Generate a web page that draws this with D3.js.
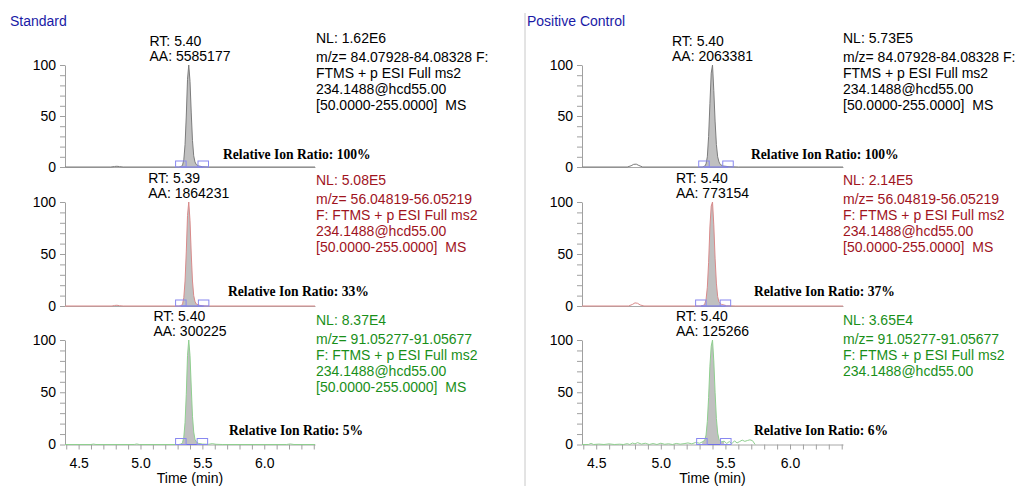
<!DOCTYPE html>
<html><head><meta charset="utf-8">
<script src="https://cdn.jsdelivr.net/npm/d3@7"></script>
<style>
html,body{margin:0;padding:0;background:#fff;}
svg{display:block;}
</style></head><body>
<svg id="chart" width="1019" height="486"></svg>
<script>
// ---------------- DATA ----------------
const sampleNames = ["Standard", "Positive Control"];
const xTickLabels = [4.5, 5.0, 5.5, 6.0];
const yTickLabels = [0, 50, 100];

const stdRT = ["5.40", "5.39", "5.40"];
const stdAA = ["5585177", "1864231", "300225"];
const pcRT  = ["5.40", "5.40", "5.40"];
const pcAA  = ["2063381", "773154", "125266"];

const stdNL = ["1.62E6", "5.08E5", "8.37E4"];
const pcNL  = ["5.73E5", "2.14E5", "3.65E4"];

const stdRatio = ["100%", "33%", "5%"];
const pcRatio  = ["100%", "37%", "6%"];

const filterIon1 = ["m/z= 84.07928-84.08328 F:", "FTMS + p ESI Full ms2", "234.1488@hcd55.00", "[50.0000-255.0000]  MS"];
const filterIon2 = ["m/z= 56.04819-56.05219", "F: FTMS + p ESI Full ms2", "234.1488@hcd55.00", "[50.0000-255.0000]  MS"];
const filterIon3 = ["m/z= 91.05277-91.05677", "F: FTMS + p ESI Full ms2", "234.1488@hcd55.00", "[50.0000-255.0000]  MS"];
const filterIon3pc = ["m/z= 91.05277-91.05677", "F: FTMS + p ESI Full ms2", "234.1488@hcd55.00"];

// integration start / end (min)
const stdPeakStart = [5.326, 5.326, 5.326];
const stdPeakEnd   = [5.507, 5.51, 5.50];
const pcPeakStart  = [5.334, 5.31, 5.318];
const pcPeakEnd    = [5.52, 5.50, 5.503];

// chromatogram traces [time (min), relative abundance (%)]
const stdIon1 = [[4.39,0],[4.76,0],[4.79,0.5],[4.81,0.7],[4.83,0.4],[4.86,0],[5.31,0],[5.33,0.5],[5.34,2],[5.35,7],[5.36,22],[5.37,50],[5.38,86],[5.39,100],[5.40,84],[5.41,53],[5.42,26],[5.43,11],[5.44,5],[5.45,2.5],[5.47,1],[5.50,0.3],[5.56,0],[6.41,0]];
const stdIon2 = [[4.39,0],[4.77,0],[4.79,0.5],[4.81,0.7],[4.83,0.3],[4.86,0],[5.31,0],[5.33,0.4],[5.34,2],[5.35,8],[5.36,24],[5.37,52],[5.38,87],[5.39,100],[5.40,82],[5.41,50],[5.42,24],[5.43,10],[5.44,4.5],[5.45,2],[5.47,0.8],[5.50,0.2],[5.56,0],[6.41,0]];
const stdIon3 = [[4.39,0],[4.60,0],[4.62,0.4],[4.64,0],[4.95,0],[4.97,0.5],[4.99,0],[5.31,0],[5.33,0.5],[5.34,2],[5.35,7],[5.36,21],[5.37,48],[5.38,85],[5.39,100],[5.40,85],[5.41,55],[5.42,27],[5.43,12],[5.44,5],[5.45,2.5],[5.47,1],[5.50,0.4],[5.55,0.2],[5.58,0.8],[5.61,0.2],[5.66,0],[6.18,0],[6.21,0.5],[6.24,0],[6.41,0]];

const pcIon1 = [[4.39,0],[4.74,0],[4.77,1.2],[4.79,2.6],[4.81,2.8],[4.83,1.5],[4.86,0],[5.32,0],[5.34,0.8],[5.35,3],[5.36,10],[5.37,30],[5.38,62],[5.39,92],[5.40,100],[5.41,75],[5.42,45],[5.43,22],[5.44,10],[5.45,5],[5.46,2.5],[5.48,1],[5.52,0.4],[5.60,0],[6.41,0]];
const pcIon2 = [[4.39,0],[4.75,0],[4.78,1.5],[4.80,3.0],[4.82,2.6],[4.84,1],[4.87,0],[5.31,0],[5.33,0.6],[5.34,2],[5.35,6],[5.36,18],[5.37,42],[5.38,76],[5.39,96],[5.40,100],[5.41,78],[5.42,46],[5.43,22],[5.44,9],[5.45,4],[5.47,1.5],[5.51,0.3],[5.58,0],[6.41,0]];
const pcIon3 = [[4.39,0],[4.44,0],[4.46,1.0],[4.48,0],[4.52,0.4],[4.56,0],[4.60,0.6],[4.64,0],[4.68,0.3],[4.71,0],[4.74,0.8],[4.76,0],[4.78,1.4],[4.80,0.6],[4.82,1.8],[4.85,0.4],[4.88,1.2],[4.91,0],[4.94,0.9],[4.97,0],[5.00,1.2],[5.03,0.2],[5.06,0.7],[5.09,0],[5.12,1.0],[5.15,0.3],[5.18,0.8],[5.21,1.5],[5.24,0.6],[5.27,2.0],[5.30,1.2],[5.32,2.4],[5.34,4],[5.35,9],[5.36,22],[5.37,45],[5.38,75],[5.39,94],[5.40,100],[5.41,80],[5.42,50],[5.43,25],[5.44,11],[5.45,5],[5.47,2.5],[5.49,3.2],[5.51,1.0],[5.53,2.8],[5.55,0.8],[5.57,3.5],[5.59,1.5],[5.61,2.8],[5.63,4.2],[5.65,3.0],[5.67,3.8],[5.69,4.5],[5.71,3.6],[5.73,0]];

// ---------------- LAYOUT ----------------
const W = 1019, H = 486;
const xDomain = [4.39, 6.41];
const xRanges = [[65, 315], [582, 843]];
const panelTop = [65, 202, 340];
const panelBottom = [167, 306, 444.5];
const nlBase = [43, 185, 325];
const nlOffsets = [0, 18.5, 34.5, 50.5, 66.5];
const rtBase = [46, 183, 321];
const aaBase = [61, 198, 336];
const ratioBase = [159, 296, 435];
const ratioX = [[223, 228, 229], [751, 754, 754]];
const nlX = [316, 843];
const ionTextColors = ["#000000", "#a0141e", "#1a8f1a"];
const traceColors = ["#7c7c7c", "#d98a8a", "#8fcf8f"];
const sans = "'Liberation Sans', Arial, Helvetica, sans-serif";
const serif = "'Liberation Serif', 'Times New Roman', serif";

const samples = [
  {name: sampleNames[0], rt: stdRT, aa: stdAA, nl: stdNL, ratio: stdRatio,
   filters: [filterIon1, filterIon2, filterIon3], traces: [stdIon1, stdIon2, stdIon3],
   pStart: stdPeakStart, pEnd: stdPeakEnd},
  {name: sampleNames[1], rt: pcRT, aa: pcAA, nl: pcNL, ratio: pcRatio,
   filters: [filterIon1, filterIon2, filterIon3pc], traces: [pcIon1, pcIon2, pcIon3],
   pStart: pcPeakStart, pEnd: pcPeakEnd}
];

const svg = d3.select("#chart");
svg.append("rect").attr("width", W).attr("height", H).attr("fill", "#fff");

// divider
svg.append("line").attr("x1", 525).attr("x2", 525).attr("y1", 13).attr("y2", H)
  .attr("stroke", "#c8c8c8").attr("stroke-width", 1);

samples.forEach((s, si) => {
  const x = d3.scaleLinear().domain(xDomain).range(xRanges[si]);

  svg.append("text").attr("x", si === 0 ? 10 : 527).attr("y", 26)
    .attr("font-family", sans).attr("font-size", 14).attr("fill", "#1a1aa6")
    .text(s.name);

  for (let k = 0; k < 3; k++) {
    const y = d3.scaleLinear().domain([0, 100]).range([panelBottom[k], panelTop[k]]);
    const g = svg.append("g");

    // labels RT / AA (left-aligned block centred on RT)
    const cx = x(parseFloat(s.rt[k]));
    const t1 = g.append("text").attr("y", rtBase[k]).attr("font-family", sans).attr("font-size", 14)
      .attr("fill", "#000").text("RT: " + s.rt[k]);
    const t2 = g.append("text").attr("y", aaBase[k]).attr("font-family", sans).attr("font-size", 14)
      .attr("fill", "#000").text("AA: " + s.aa[k]);
    const bw = Math.max(t1.node().getComputedTextLength(), t2.node().getComputedTextLength());
    t1.attr("x", cx - bw / 2); t2.attr("x", cx - bw / 2);

    // NL + filter block
    const lines = ["NL: " + s.nl[k]].concat(s.filters[k]);
    lines.forEach((ln, li) => {
      g.append("text").attr("x", nlX[si]).attr("y", nlBase[k] + nlOffsets[li])
        .attr("font-family", sans).attr("font-size", 14).attr("fill", ionTextColors[k])
        .style("white-space", "pre").text(ln);
    });

    // ratio
    g.append("text").attr("x", ratioX[si][k]).attr("y", ratioBase[k])
      .attr("font-family", serif).attr("font-size", 13.6).attr("font-weight", "bold")
      .attr("fill", "#000").text("Relative Ion Ratio: " + s.ratio[k]);

    // y axis
    const yAxis = d3.axisLeft(y).tickValues(d3.range(0, 101, 10)).tickSize(5).tickSizeOuter(0)
      .tickPadding(4).tickFormat(d => yTickLabels.includes(d) ? d : "");
    const ya = g.append("g").attr("transform", `translate(${xRanges[si][0]},0)`).call(yAxis);
    ya.select(".domain").attr("stroke", "#a0a0a0");
    ya.selectAll(".tick line").attr("stroke", "#a0a0a0");
    ya.selectAll(".tick text").attr("font-family", sans).attr("font-size", 14).attr("fill", "#000");

    // x axis (baseline)
    const isBottom = k === 2;
    const xAxis = d3.axisBottom(x)
      .tickValues(isBottom ? d3.range(44, 65).map(d => d / 10) : [])
      .tickSize(5).tickSizeOuter(0).tickPadding(8.5)
      .tickFormat(d => xTickLabels.some(v => Math.abs(v - d) < 1e-6) ? d.toFixed(1) : "");
    const xa = g.append("g").attr("transform", `translate(0,${panelBottom[k]})`).call(xAxis);
    xa.select(".domain").attr("stroke", "#a8a8a8");
    xa.selectAll(".tick line").attr("stroke", "#a0a0a0");
    xa.selectAll(".tick text").attr("font-family", sans).attr("font-size", 14).attr("fill", "#000");

    if (isBottom) {
      g.append("text").attr("x", (xRanges[si][0] + xRanges[si][1]) / 2).attr("y", 483)
        .attr("text-anchor", "middle").attr("font-family", sans).attr("font-size", 14)
        .attr("fill", "#000").text("Time (min)");
    }

    // peak fill
    const tr = s.traces[k];
    const inPeak = tr.filter(p => p[0] >= s.pStart[k] - 1e-9 && p[0] <= s.pEnd[k] + 1e-9);
    g.append("path").datum(inPeak)
      .attr("d", d3.area().x(p => x(p[0])).y0(y(0)).y1(p => y(p[1])))
      .attr("fill", "#c0c0c0").attr("stroke", "none");

    // trace
    g.append("path").datum(tr)
      .attr("d", d3.line().x(p => x(p[0])).y(p => y(p[1])))
      .attr("fill", "none").attr("stroke", traceColors[k]).attr("stroke-width", 1);

    // integration baseline + markers
    g.append("line").attr("x1", x(s.pStart[k])).attr("x2", x(s.pEnd[k]))
      .attr("y1", y(0)).attr("y2", y(0)).attr("stroke", "#7070e8").attr("stroke-width", 1);
    [s.pStart[k], s.pEnd[k]].forEach(tm => {
      g.append("rect").attr("x", x(tm) - 5.25).attr("y", y(0) - 6).attr("width", 10.5).attr("height", 6)
        .attr("fill", "none").attr("stroke", "#8888f0").attr("stroke-width", 1);
    });
  }
});
</script>
</body></html>
